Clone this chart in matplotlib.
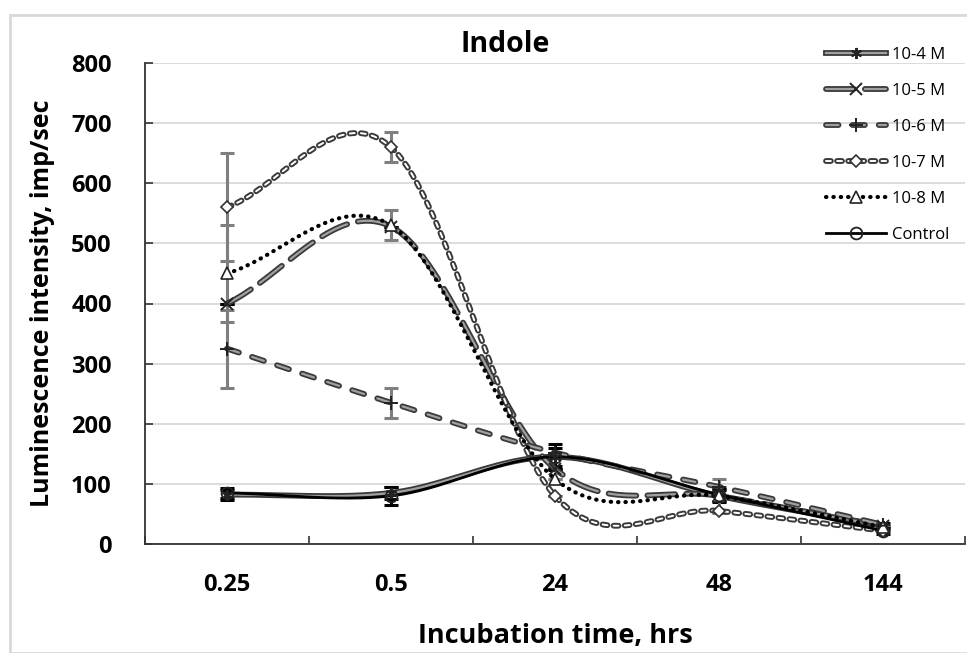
import numpy as np
import matplotlib
matplotlib.use("Agg")
from matplotlib import pyplot as plt
from matplotlib import patheffects as pe
from matplotlib.lines import Line2D
from matplotlib.patches import Rectangle
from matplotlib.legend_handler import HandlerTuple

plt.rcParams['font.family'] = ['Open Sans', 'DejaVu Sans']
plt.rcParams['lines.scale_dashes'] = False

times = ["0.25", "0.5", "24", "48", "144"]
labels = ["10-4 M", "10-5 M", "10-6 M", "10-7 M", "10-8 M", "Control"]

c_1e4 = [82, 85, 145, 80, 30]
c_1e5 = [400, 528, 125, 80, 30]
c_1e6 = [325, 235, 152, 95, 32]
c_1e7 = [560, 660, 80, 55, 22]
c_1e8 = [450, 530, 108, 80, 28]
control = [85, 80, 145, 82, 22]

err_1e4 = [8, 10, 15, 10, 5]
err_1e5 = [0, 0, 0, 0, 0]
err_1e6 = [65, 25, 0, 0, 0]
err_1e7 = [90, 25, 0, 0, 0]
err_1e8 = [80, 25, 0, 28, 0]
err_control = [8, 15, 22, 10, 5]


def smooth(y, n=40):
    # catmull-rom, like Excel "smoothed line"
    y = np.asarray(y, dtype=float)
    p = np.concatenate([[y[0]], y, [y[-1]]])
    xs, ys = [], []
    for i in range(len(y) - 1):
        p0, p1, p2, p3 = p[i], p[i + 1], p[i + 2], p[i + 3]
        if i == 0:
            m1 = p2 - p1
        else:
            m1 = (p2 - p0) / 2
        if i == len(y) - 2:
            m2 = p2 - p1
        else:
            m2 = (p3 - p1) / 2
        t = np.linspace(0, 1, n)
        h00 = 2 * t**3 - 3 * t**2 + 1
        h10 = t**3 - 2 * t**2 + t
        h01 = -2 * t**3 + 3 * t**2
        h11 = t**3 - t**2
        xs.append(i + t)
        ys.append(h00 * p1 + h10 * m1 + h01 * p2 + h11 * m2)
    return np.concatenate(xs), np.concatenate(ys)


fig = plt.figure(figsize=(9.67, 6.53), dpi=100)
fig.patches.append(Rectangle((10 / 967, 0), 1, 1 - 15 / 653, transform=fig.transFigure,
                             fill=False, edgecolor='#d9d9d9', linewidth=2))
ax = fig.add_axes([145 / 967, 1 - 544 / 653, 820 / 967, 481 / 653])

x = np.arange(len(times))
double = [pe.Stroke(linewidth=4.2, foreground='#3a3a3a'), pe.Normal()]

series = [
    (c_1e4, err_1e4, dict(color='#a0a0a0', lw=1.6, ls='-', path_effects=double),
     dict(marker=(6, 2, 0), ms=8, mec='#222222', mew=1.4), 'k'),
    (c_1e5, err_1e5, dict(color='#a0a0a0', lw=1.6, dashes=(20, 8), path_effects=double),
     dict(marker='x', ms=8, mec='#222222', mew=1.4), 'k'),
    (c_1e6, err_1e6, dict(color='#a0a0a0', lw=1.6, dashes=(9, 10), path_effects=double),
     dict(marker='+', ms=10, mec='#222222', mew=1.4), '#7f7f7f'),
    (c_1e7, err_1e7, dict(color='white', lw=1.4, dashes=(3.5, 4.5), path_effects=double),
     dict(marker='D', ms=6.5, mfc='white', mec='#333333', mew=1.2), '#7f7f7f'),
    (c_1e8, err_1e8, dict(color='black', lw=3.0, dashes=(0.3, 5.0)),
     dict(marker='^', ms=8.5, mfc='white', mec='#222222', mew=1.2), '#7f7f7f'),
    (control, err_control, dict(color='black', lw=2.0, ls='-'),
     dict(marker='o', ms=8.5, mfc='none', mec='#222222', mew=1.3), 'k'),
]

handles = []
for (vals, err, lstyle, mstyle, ecol), lab in zip(series, labels):
    ax.errorbar(x, vals, yerr=err, fmt='none', ecolor=ecol, elinewidth=2.2,
                capsize=5, capthick=2.2, zorder=2)
for (vals, err, lstyle, mstyle, ecol), lab in zip(series, labels):
    sx, sy = smooth(vals)
    ls = dict(lstyle)
    if 'dashes' in ls:
        ls['dash_capstyle'] = 'round'
    ax.plot(sx, sy, zorder=3, **ls)
    ax.plot(x, vals, ls='none', zorder=4, **mstyle)
    h_line = Line2D([], [], **ls)
    h_mark = Line2D([], [], ls='none', **mstyle)
    handles.append((h_line, h_mark))

ax.set_xlim(-0.5, len(times) - 0.5)
ax.set_ylim(0, 800)
ax.set_yticks(range(0, 801, 100))
ax.set_xticks(x)
ax.set_xticklabels(times, fontsize=17, fontweight='bold')
ax.set_xticks(np.arange(-0.5, len(times), 1), minor=True)
ax.tick_params(axis='x', which='major', length=0, pad=21)
ax.tick_params(axis='x', which='minor', direction='in', length=6, width=1.2, color='#333333')
ax.tick_params(axis='y', direction='in', length=6, width=1.2, color='#333333',
               labelsize=17, pad=24)
for t in ax.get_yticklabels():
    t.set_fontweight('bold')

ax.set_axisbelow(True)
ax.yaxis.grid(color='#d9d9d9', linewidth=1.3)
for s in ['top', 'right']:
    ax.spines[s].set_visible(False)
ax.spines['left'].set_color('#333333')
ax.spines['bottom'].set_color('#333333')
ax.spines['left'].set_linewidth(1.3)
ax.spines['bottom'].set_linewidth(1.3)

ax.set_ylabel("Luminescence intensity, imp/sec", fontsize=18, fontweight='bold')
ax.yaxis.set_label_coords(-0.11, 0.5)
ax.set_xlabel("Incubation time, hrs", fontsize=19.5, fontweight='bold')
ax.xaxis.set_label_coords(0.5, -0.165)
fig.text(505 / 967, 1 - 44 / 653, "Indole", fontsize=20.5, fontweight='bold',
         ha='center', va='center')

ax.legend(handles, labels, loc='upper left', bbox_to_anchor=(811 / 967, 1 - 32 / 653),
          bbox_transform=fig.transFigure, frameon=False, fontsize=12,
          handlelength=3.6, labelspacing=1.2, handletextpad=0.35,
          handler_map={tuple: HandlerTuple(ndivide=1)})

plt.savefig("out.png", dpi=100)
